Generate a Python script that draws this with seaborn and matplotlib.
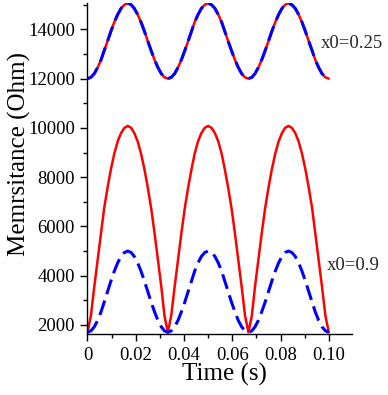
import matplotlib
matplotlib.use("Agg")
import matplotlib.pyplot as plt
from matplotlib.ticker import MultipleLocator
import seaborn as sns

# sample times (s)
time_s = [0, 0.0014, 0.0028, 0.0042, 0.0056, 0.0069, 0.0083, 0.0097, 0.0111, 0.0125,
          0.0139, 0.0153, 0.0167, 0.0181, 0.0194, 0.0208, 0.0222, 0.0236, 0.025, 0.0264,
          0.0278, 0.0292, 0.0306, 0.0319, 0.0333, 0.0347, 0.0361, 0.0375, 0.0389, 0.0403,
          0.0417, 0.0431, 0.0444, 0.0458, 0.0472, 0.0486, 0.05, 0.0514, 0.0528, 0.0542,
          0.0556, 0.0569, 0.0583, 0.0597, 0.0611, 0.0625, 0.0639, 0.0653, 0.0667, 0.0681,
          0.0694, 0.0708, 0.0722, 0.0736, 0.075, 0.0764, 0.0778, 0.0792, 0.0806, 0.0819,
          0.0833, 0.0847, 0.0861, 0.0875, 0.0889, 0.0903, 0.0917, 0.0931, 0.0944, 0.0958,
          0.0972, 0.0986, 0.1]

# x0 = 0.25 (red solid and blue dashed lie on top of each other)
m_025_red = [12000,
             12050, 12200, 12450, 12760, 13130, 13520, 13920, 14290, 14600, 14850, 15000, 15060,
             15000, 14850, 14600, 14290, 13920, 13520, 13130, 12760, 12450, 12200, 12050, 12000,
             12050, 12200, 12450, 12760, 13130, 13520, 13920, 14290, 14600, 14850, 15000, 15060,
             15000, 14850, 14600, 14290, 13920, 13520, 13130, 12760, 12450, 12200, 12050, 12000,
             12050, 12200, 12450, 12760, 13130, 13520, 13920, 14290, 14600, 14850, 15000, 15060,
             15000, 14850, 14600, 14290, 13920, 13520, 13130, 12760, 12450, 12200, 12050, 12000]
m_025_blue = [12000,
              12050, 12200, 12450, 12760, 13130, 13520, 13920, 14290, 14600, 14850, 15000, 15060,
              15000, 14850, 14600, 14290, 13920, 13520, 13130, 12760, 12450, 12200, 12050, 12000,
              12050, 12200, 12450, 12760, 13130, 13520, 13920, 14290, 14600, 14850, 15000, 15060,
              15000, 14850, 14600, 14290, 13920, 13520, 13130, 12760, 12450, 12200, 12050, 12000,
              12050, 12200, 12450, 12760, 13130, 13520, 13920, 14290, 14600, 14850, 15000, 15060,
              15000, 14850, 14600, 14290, 13920, 13520, 13130, 12760, 12450, 12200, 12050, 12000]

# x0 = 0.9
m_09_red = [1700,
            2370, 3540, 4630, 5720, 6730, 7570, 8320, 8950, 9450, 9790, 10000, 10080,
            10000, 9790, 9450, 8950, 8320, 7570, 6730, 5720, 4630, 3540, 2370, 1700,
            2370, 3540, 4630, 5720, 6730, 7570, 8320, 8950, 9450, 9790, 10000, 10080,
            10000, 9790, 9450, 8950, 8320, 7570, 6730, 5720, 4630, 3540, 2370, 1700,
            2370, 3540, 4630, 5720, 6730, 7570, 8320, 8950, 9450, 9790, 10000, 10080,
            10000, 9790, 9450, 8950, 8320, 7570, 6730, 5720, 4630, 3540, 2370, 1700]
m_09_blue = [1700,
             1760, 1920, 2180, 2530, 2920, 3350, 3780, 4180, 4520, 4780, 4940, 5000,
             4940, 4780, 4520, 4180, 3780, 3350, 2920, 2530, 2180, 1920, 1760, 1700,
             1760, 1920, 2180, 2530, 2920, 3350, 3780, 4180, 4520, 4780, 4940, 5000,
             4940, 4780, 4520, 4180, 3780, 3350, 2920, 2530, 2180, 1920, 1760, 1700,
             1760, 1920, 2180, 2530, 2920, 3350, 3780, 4180, 4520, 4780, 4940, 5000,
             4940, 4780, 4520, 4180, 3780, 3350, 2920, 2530, 2180, 1920, 1760, 1700]

x_ticks = [0, 0.02, 0.04, 0.06, 0.08, 0.10]
x_tick_labels = ["0", "0.02", "0.04", "0.06", "0.08", "0.10"]

sns.set_theme(style="ticks")
plt.rcParams['font.family'] = ['Liberation Serif', 'DejaVu Serif']
plt.rcParams['xtick.labelsize'] = 13.5
plt.rcParams['ytick.labelsize'] = 13.5

fig = plt.figure(figsize=(3.88, 3.95), dpi=100)
ax = fig.add_axes([0.2255, 0.1537, 0.681, 0.8387])

dash = (0, (5, 2.2))
sns.lineplot(x=time_s, y=m_025_red, color="#ff0000", linewidth=1.8, ax=ax)
sns.lineplot(x=time_s, y=m_025_blue, color="#0000ff", linewidth=2.2, linestyle=dash, ax=ax)
sns.lineplot(x=time_s, y=m_09_red, color="#ff0000", linewidth=1.8, ax=ax)
sns.lineplot(x=time_s, y=m_09_blue, color="#0000ff", linewidth=2.2, linestyle=dash, ax=ax)

ax.set_xlim(0, 0.1095)
ax.set_ylim(1620, 15070)
ax.set_xticks(x_ticks)
ax.set_xticklabels(x_tick_labels, fontsize=13.5)
ax.xaxis.set_minor_locator(MultipleLocator(0.01))
ax.yaxis.set_major_locator(MultipleLocator(2000))
ax.yaxis.set_minor_locator(MultipleLocator(1000))
for lab in ax.get_yticklabels():
    lab.set_fontsize(13.5)

ax.tick_params(which="major", direction="out", length=5, width=1,
               colors="black", pad=4)
ax.tick_params(which="minor", direction="out", length=3, width=1, colors="black")
sns.despine(ax=ax)
for s in ("left", "bottom"):
    ax.spines[s].set_linewidth(1)
    ax.spines[s].set_color("black")

ax.set_xlabel("Time (s)", fontsize=18, color="black")
ax.set_ylabel("Memrsitance (Ohm)", fontsize=18, color="black")
ax.xaxis.set_label_coords(0.52, -0.087)
ax.yaxis.set_label_coords(-0.214, 0.545)

ax.text(0.0965, 13440, "x0=0.25", fontsize=13.5, ha="left", va="center", clip_on=False)
ax.text(0.099, 4430, "x0=0.9", fontsize=13.5, ha="left", va="center", clip_on=False)

fig.savefig("out.png", dpi=100)
